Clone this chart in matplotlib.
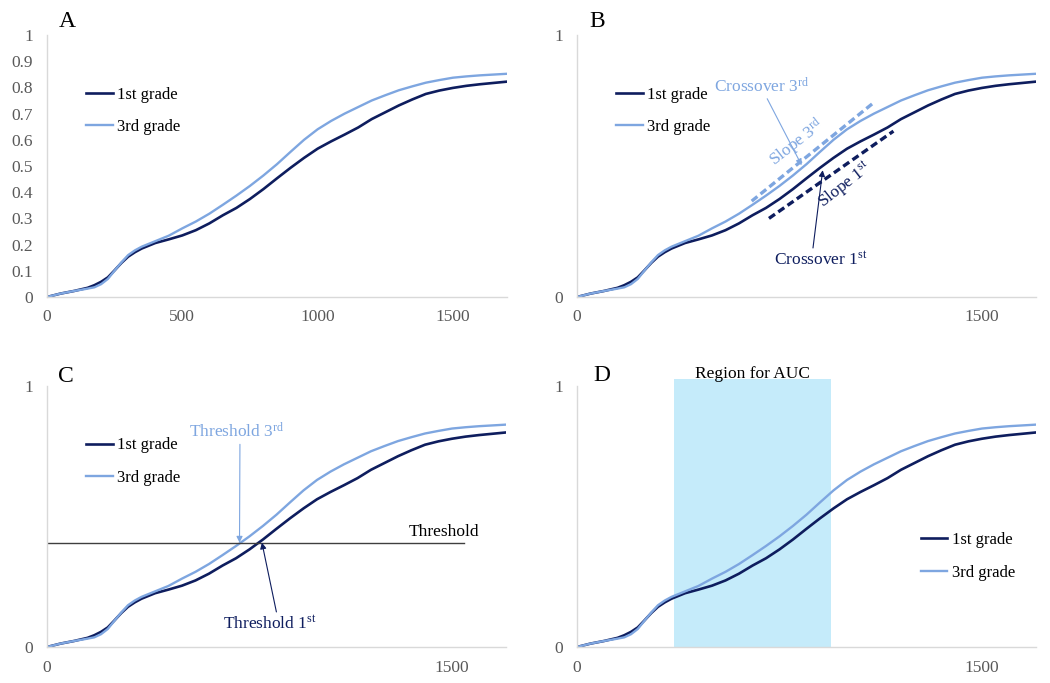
import matplotlib
matplotlib.use("Agg")
import matplotlib.pyplot as plt

plt.rcParams['font.family'] = ['Liberation Serif', 'DejaVu Serif']
plt.rcParams['mathtext.fontset'] = 'custom'
plt.rcParams['mathtext.rm'] = 'Liberation Serif'
plt.rcParams['mathtext.it'] = 'Liberation Serif:italic'

# cumulative proportion over time
time_pts = [0, 50, 100, 150, 175, 200, 225, 250, 275, 300, 325, 350, 400, 450,
            500, 550, 600, 650, 700, 750, 800, 850, 900, 950, 1000, 1050, 1100,
            1150, 1200, 1250, 1300, 1350, 1400, 1450, 1500, 1550, 1600, 1650, 1700]
grade1 = [0.000, 0.013, 0.023, 0.035, 0.045, 0.058, 0.075, 0.102, 0.130, 0.154,
          0.171, 0.185, 0.206, 0.220, 0.235, 0.255, 0.281, 0.312, 0.340, 0.374,
          0.412, 0.453, 0.493, 0.531, 0.566, 0.594, 0.620, 0.647, 0.679, 0.705,
          0.731, 0.754, 0.775, 0.788, 0.798, 0.806, 0.812, 0.817, 0.822]
grade3 = [0.000, 0.013, 0.023, 0.032, 0.037, 0.049, 0.069, 0.101, 0.132, 0.160,
          0.178, 0.192, 0.213, 0.234, 0.262, 0.288, 0.318, 0.352, 0.387, 0.424,
          0.464, 0.507, 0.554, 0.600, 0.640, 0.672, 0.700, 0.725, 0.750, 0.770,
          0.789, 0.804, 0.818, 0.828, 0.837, 0.842, 0.846, 0.849, 0.852]
series_labels = ['1st grade', '3rd grade']

# annotation values
slope3_x, slope3_y = [647, 1104], [0.366, 0.746]
slope1_x, slope1_y = [711, 1172], [0.300, 0.633]
cross3 = (832, 0.503)
cross1 = (910, 0.484)
threshold = 0.40
threshold_end = 1543
thr3 = (713, 0.40)
thr1 = (796, 0.40)
auc_region = (360, 940)

DARK = '#0E1D5E'
LIGHT = '#7EA6E0'
GRAY = '#595959'

fig = plt.figure(figsize=(10.5, 6.83), dpi=100)
W, H = 1050, 683


def make_ax(l, r, b, t):
    return fig.add_axes([l / W, 1 - b / H, (r - l) / W, (b - t) / H])


def style(ax, yticks, ylabels, xticks):
    ax.set_xlim(0, 1700)
    ax.set_ylim(0, 1)
    for s in ['top', 'right']:
        ax.spines[s].set_visible(False)
    for s in ['left', 'bottom']:
        ax.spines[s].set_color('#D9D9D9')
        ax.spines[s].set_linewidth(1.0)
    ax.set_yticks(yticks)
    ax.set_yticklabels(ylabels)
    ax.set_xticks(xticks)
    ax.set_xticklabels([str(v) for v in xticks])
    ax.tick_params(axis='both', length=0, labelsize=12.5, labelcolor=GRAY)
    ax.tick_params(axis='x', pad=9)
    ax.tick_params(axis='y', pad=10)


def curves(ax, legend_pos):
    ax.plot(time_pts, grade1, color=DARK, lw=1.9, label=series_labels[0])
    ax.plot(time_pts, grade3, color=LIGHT, lw=1.7, label=series_labels[1])
    ax.legend(loc='center left', bbox_to_anchor=legend_pos, frameon=False,
              fontsize=12, handlelength=1.6, handletextpad=0.25,
              labelspacing=1.0, borderpad=0, borderaxespad=0)


axA = make_ax(47, 507, 297, 35)
axB = make_ax(577, 1036, 297, 35)
axC = make_ax(47, 506, 647, 386)
axD = make_ax(577, 1036, 647, 386)

# A
curves(axA, (0.085, 0.71))
ticksA = [i / 10 for i in range(11)]
labelsA = ['0'] + ['0.%d' % i for i in range(1, 10)] + ['1']
style(axA, ticksA, labelsA, [0, 500, 1000, 1500])

# B
curves(axB, (0.086, 0.71))
style(axB, [0, 1], ['0', '1'], [0, 1500])
dash = (0, (2.2, 1.2))
axB.plot(slope3_x, slope3_y, color=LIGHT, lw=2.4, ls=dash)
axB.plot(slope1_x, slope1_y, color=DARK, lw=2.4, ls=dash)
axB.text(815, 0.587, 'Slope 3$^{\\rm rd}$', color=LIGHT, fontsize=12.5,
         rotation=38, ha='center', va='center', rotation_mode='anchor')
axB.text(993, 0.427, 'Slope 1$^{\\rm st}$', color=DARK, fontsize=12.5,
         rotation=38, ha='center', va='center', rotation_mode='anchor')
axB.annotate('Crossover 3$^{\\rm rd}$', xy=cross3, xytext=(685, 0.804),
             color=LIGHT, fontsize=12.5, ha='center', va='center',
             arrowprops=dict(arrowstyle='-|>', color=LIGHT, lw=0.8,
                             mutation_scale=9, relpos=(0.54, 0.0),
                             shrinkA=0, shrinkB=0))
axB.annotate('Crossover 1$^{\\rm st}$', xy=cross1, xytext=(904, 0.143),
             color=DARK, fontsize=12.5, ha='center', va='center',
             arrowprops=dict(arrowstyle='-|>', color=DARK, lw=0.8,
                             mutation_scale=9, relpos=(0.41, 1.0),
                             shrinkA=0, shrinkB=0))

# C
curves(axC, (0.085, 0.71))
style(axC, [0, 1], ['0', '1'], [0, 1500])
axC.plot([0, threshold_end], [threshold, threshold], color='#3F3F3F', lw=1.0)
axC.text(1600, threshold + 0.01, 'Threshold', color='black', fontsize=12.5,
         ha='right', va='bottom')
axC.annotate('Threshold 3$^{\\rm rd}$', xy=thr3, xytext=(704, 0.824),
             color=LIGHT, fontsize=12.5, ha='center', va='center',
             arrowprops=dict(arrowstyle='-|>', color=LIGHT, lw=0.8,
                             mutation_scale=9, relpos=(0.53, 0.0),
                             shrinkA=0, shrinkB=0))
axC.annotate('Threshold 1$^{\\rm st}$', xy=thr1, xytext=(824, 0.09),
             color=DARK, fontsize=12.5, ha='center', va='center',
             arrowprops=dict(arrowstyle='-|>', color=DARK, lw=0.8,
                             mutation_scale=9, relpos=(0.58, 1.0),
                             shrinkA=0, shrinkB=0))

# D
axD.axvspan(auc_region[0], auc_region[1], ymin=0, ymax=1.027,
            color='#C5EBFA', lw=0, clip_on=False, zorder=0)
curves(axD, (0.749, 0.348))
style(axD, [0, 1], ['0', '1'], [0, 1500])
axD.text(sum(auc_region) / 2, 1.03, 'Region for AUC', color='black',
         fontsize=12.5, ha='center', va='baseline')

# panel letters
for letter, x, y in [('A', 67, 27), ('B', 597, 27), ('C', 66, 382), ('D', 602, 381)]:
    fig.text(x / W, 1 - y / H, letter, fontsize=17, ha='center', va='baseline')

fig.savefig('out.png', dpi=100)
